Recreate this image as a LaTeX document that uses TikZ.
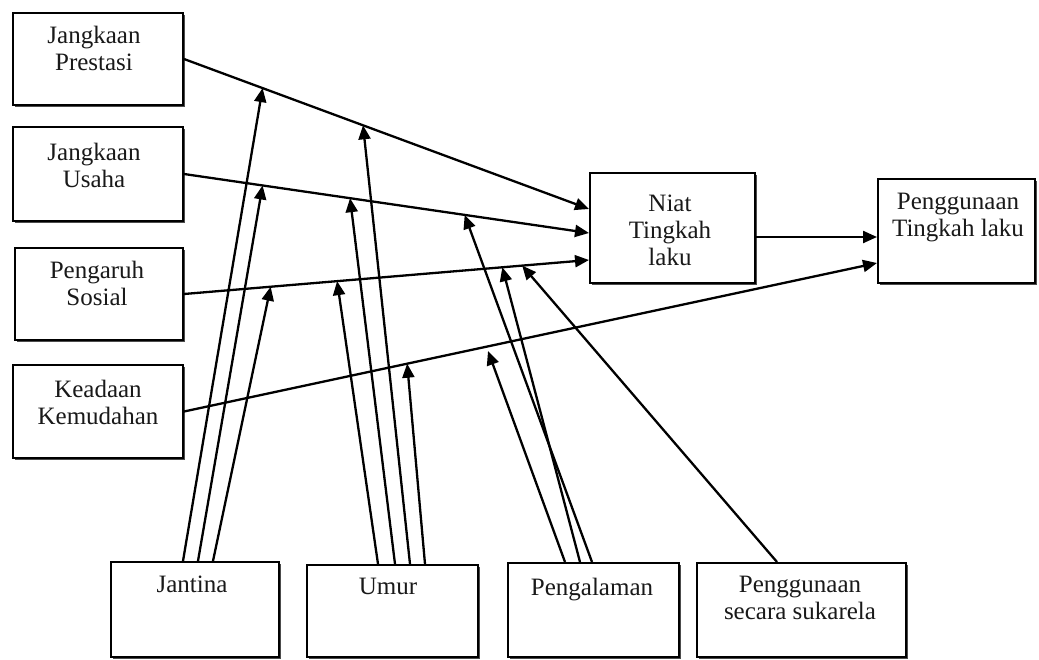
\documentclass[tikz,border=0pt]{standalone}
\usepackage{fontspec}
\setmainfont{Liberation Serif}
\usetikzlibrary{arrows.meta,shadows,calc}

\begin{document}
\begin{tikzpicture}
  \begin{scope}[x={(1pt,0pt)},y={(0pt,-1pt)},
    box/.style={draw=black,fill=white,line width=2pt,inner sep=0pt,
      drop shadow={shadow xshift=2pt,shadow yshift=-2pt,fill=black!70,opacity=1}},
    txt/.style={anchor=north,align=center,inner sep=0pt,text=black!90,
      font=\fontsize{25pt}{27pt}\selectfont},
    arr/.style={black,line width=2.3pt,-{Triangle[length=14pt,width=12pt]}}]
    % \draw[help lines,step=20] (0,0) grid (1039,659);
    \useasboundingbox (0,0) rectangle (1039,659);

    % left column
    \node[box,minimum width=170pt,minimum height=92pt] (JP) at (98,59) {};
    \node[box,minimum width=170pt,minimum height=94pt] (JU) at (98,174) {};
    \node[box,minimum width=168pt,minimum height=92pt] (PS) at (99,294) {};
    \node[box,minimum width=170pt,minimum height=93pt] (KK) at (98,411.5) {};
    \node[txt] (JP_t) at (94,26) {Jangkaan\\Prestasi};
    \node[txt] (JU_t) at (94,143) {Jangkaan\\Usaha};
    \node[txt] (PS_t) at (97,261) {Pengaruh\\Sosial};
    \node[txt] (KK_t) at (98,380) {Keadaan\\Kemudahan};

    % right side
    \node[box,minimum width=165pt,minimum height=110pt] (NT) at (672.5,228) {};
    \node[box,minimum width=157pt,minimum height=104pt] (PT) at (956.5,231) {};
    \node[txt] (NT_t) at (670,195) {Niat\\Tingkah\\laku};
    \node[txt] (PT_t) at (958,193) {Penggunaan\\Tingkah laku};

    % bottom row
    \node[box,minimum width=168pt,minimum height=95pt] (Jan) at (195,609.5) {};
    \node[box,minimum width=171pt,minimum height=92pt] (Umr) at (392.5,611) {};
    \node[box,minimum width=171pt,minimum height=94pt] (Pgl) at (593.5,610) {};
    \node[box,minimum width=209pt,minimum height=94pt] (PSS) at (801.5,610) {};
    \node[txt] (Jan_t) at (192,576) {Jantina};
    \node[txt] (Umr_t) at (388,578) {Umur};
    \node[txt] (Pgl_t) at (592,578) {Pengalaman};
    \node[txt] (PSS_t) at (800,576) {Penggunaan\\secara sukarela};

    \coordinate (NT_1) at ($(NT.west)+(0,-19)$);
    \coordinate (NT_2) at ($(NT.west)+(0,5)$);
    \coordinate (NT_3) at ($(NT.west)+(0,32)$);
    \coordinate (NT_o) at ($(NT.east)+(0,9)$);
    \coordinate (PT_1) at ($(PT.west)+(0,6)$);
    \coordinate (PT_2) at ($(PT.west)+(0,32)$);

    \draw[arr] (JP.east) -- (NT_1) coordinate[pos=.194] (m_J1) coordinate[pos=.442] (m_U1);
    \draw[arr] (JU.east) -- (NT_2) coordinate[pos=.194] (m_J2) coordinate[pos=.410] (m_U2)
      coordinate[pos=.693] (m_P1);
    \draw[arr] (PS.east) -- (NT_3) coordinate[pos=.214] (m_J3) coordinate[pos=.378] (m_U3)
      coordinate[pos=.786] (m_P2) coordinate[pos=.835] (m_S);
    \draw[arr] (KK.east) -- (PT_2) coordinate[pos=.322] (m_U4);
    \draw[arr] (NT_o) -- (PT_1);
    \coordinate (m_P3) at (488,351);

    % moderators
    \draw[arr] ([xshift=-12pt]Jan.north) -- (m_J1);
    \draw[arr] ([xshift=3pt]Jan.north) -- (m_J2);
    \draw[arr] ([xshift=18pt]Jan.north) -- (m_J3);
    \draw[arr] ([xshift=17.5pt]Umr.north) -- (m_U1);
    \draw[arr] ([xshift=2.5pt]Umr.north) -- (m_U2);
    \draw[arr] ([xshift=-14.5pt]Umr.north) -- (m_U3);
    \draw[arr] ([xshift=32.5pt]Umr.north) -- (m_U4);
    \draw[arr] ([xshift=-1.5pt]Pgl.north) -- (m_P1);
    \draw[arr] ([xshift=-13.5pt]Pgl.north) -- (m_P2);
    \draw[arr] ([xshift=-28.5pt]Pgl.north) -- (m_P3);
    \draw[arr] ([xshift=-24.5pt]PSS.north) -- (m_S);
  \end{scope}
\end{tikzpicture}
\end{document}
